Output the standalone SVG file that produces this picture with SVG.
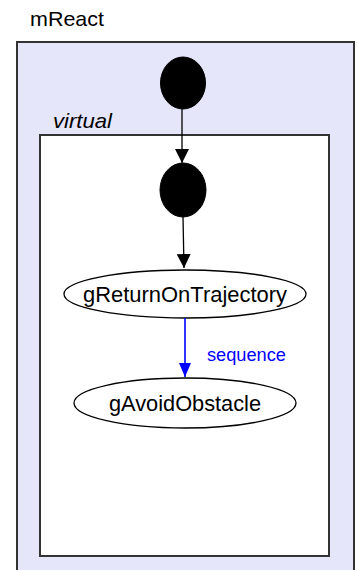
<svg xmlns="http://www.w3.org/2000/svg" width="358" height="570" viewBox="0 0 358 570">
<style>
text{font-family:"Liberation Sans",Arial,sans-serif}
.box{stroke:#333;stroke-width:2}
.node{fill:#fff;stroke:#000;stroke-width:1.3}
.dot{fill:#000;stroke:#000}
.lbl{font-size:22px;fill:#000;text-anchor:middle}
.edge{stroke:#000;stroke-width:1.3;fill:none}
.seq{stroke:#00f;stroke-width:1.6;fill:none}
</style>
<defs>
<marker id="ah" markerWidth="14" markerHeight="20" refX="14" refY="10" orient="auto" markerUnits="userSpaceOnUse" viewBox="0 0 14 20"><path d="M0,3 L14,10 L0,17 Z" fill="#000"/></marker>
<marker id="ahb" markerWidth="14" markerHeight="24" refX="14" refY="12" orient="auto" markerUnits="userSpaceOnUse" viewBox="0 0 14 24"><path d="M0,6 L14,12 L0,18 Z" fill="#00f"/></marker>
</defs>
<text x="30" y="26" font-size="21" textLength="74" lengthAdjust="spacingAndGlyphs">mReact</text>
<g id="mReact">
<rect class="box" x="17" y="42" width="337" height="540" fill="#e6e6fa"/>
</g>
<g id="virtual">
<text x="53" y="128" font-size="21" font-style="italic" textLength="59" lengthAdjust="spacingAndGlyphs">virtual</text>
<rect class="box" x="40" y="135" width="289" height="421" fill="#fff"/>
</g>
<g id="start1"><ellipse class="dot" cx="183" cy="83" rx="22.5" ry="26"/></g>
<g id="start2"><ellipse class="dot" cx="183" cy="190" rx="23" ry="27"/></g>
<g id="gReturnOnTrajectory">
<ellipse class="node" cx="185" cy="294" rx="121" ry="24"/>
<text class="lbl" x="185" y="302" textLength="204" lengthAdjust="spacingAndGlyphs">gReturnOnTrajectory</text>
</g>
<g id="gAvoidObstacle">
<ellipse class="node" cx="185" cy="403" rx="111" ry="25"/>
<text class="lbl" x="185" y="411" textLength="152" lengthAdjust="spacingAndGlyphs">gAvoidObstacle</text>
</g>
<g id="connectors">
<path class="edge" d="M182,109 L182,163" marker-end="url(#ah)"/>
<path class="edge" d="M183,217 L184,268" marker-end="url(#ah)"/>
<path class="seq" d="M185,318 L185,377" marker-end="url(#ahb)"/>
<text x="207" y="361" font-size="18" fill="#00f" textLength="79" lengthAdjust="spacingAndGlyphs">sequence</text>
</g>
</svg>
